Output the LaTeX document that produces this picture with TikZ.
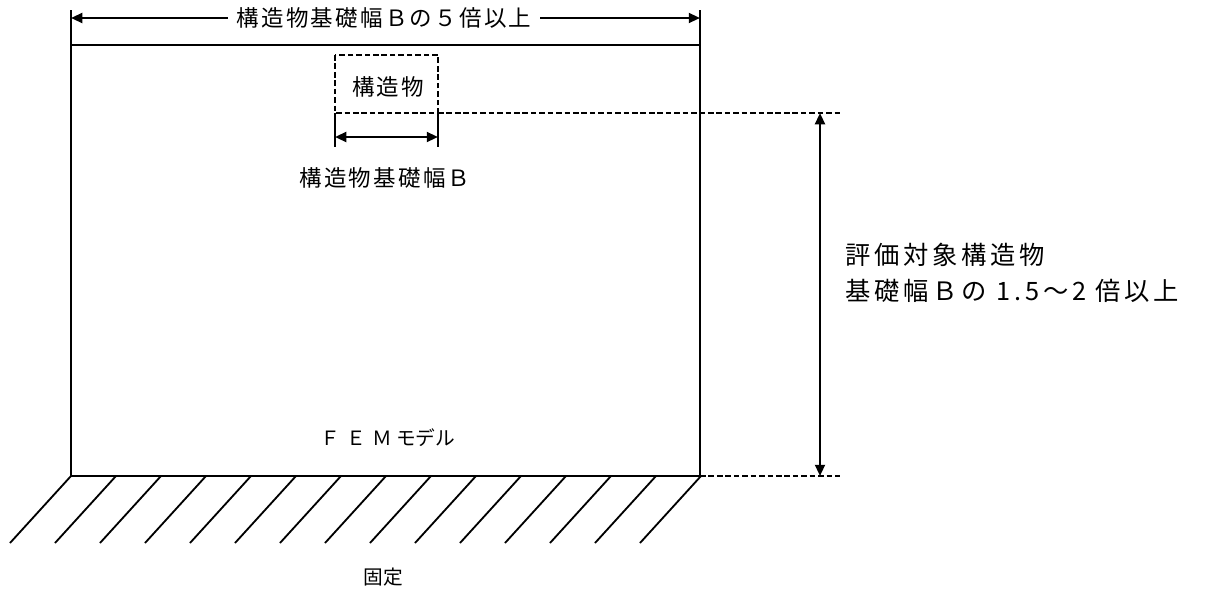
\documentclass[tikz,border=0pt]{standalone}
\usepackage{fontspec}
\usepackage{tikz}
\usetikzlibrary{arrows.meta}
\newfontfamily\jpfont{Noto Sans CJK JP}[LetterSpace=10]
\newfontfamily\jpwide{Noto Sans CJK JP}[LetterSpace=30]
\newfontfamily\jpright{Noto Sans CJK JP}[LetterSpace=15]
\newfontfamily\jptight{Noto Sans CJK JP}

\tikzset{
    dimline/.style={line width=1.6pt, -{Triangle[length=8pt,width=7pt]}},
    dimboth/.style={line width=1.6pt, {Triangle[length=8pt,width=7pt]}-{Triangle[length=8pt,width=7pt]}},
    auxline/.style={line width=1.6pt, dash pattern=on 4pt off 2pt},
    lbl/.style={inner sep=2pt, font=\jpfont\fontsize{16pt}{18pt}\selectfont},
    sidelbl/.style={anchor=west, inner sep=0pt, font=\jpright\fontsize{18pt}{20pt}\selectfont}
}

\begin{document}
\begin{tikzpicture}[x=0.025cm, y=-0.025cm]
    \useasboundingbox (0,0) rectangle (1206,594);

    % Modelo FEM
    \draw[line width=1.8pt] (71,45) rectangle (700,476);
    \node[inner sep=2pt, font=\fontsize{14pt}{16pt}\selectfont] (fem) at (388,438) {{\jpwide ＦＥＭ}\kern3pt{\jptight モデル}};

    % Fixo
    \foreach \i in {0,...,14} {
        \draw[line width=1.3pt] (71+\i*45,476) -- (10+\i*45,543);
    }
    \node[font=\jptight\fontsize{14pt}{16pt}\selectfont] (kotei) at (383,577) {固定};

    % Largura total
    \coordinate (tl) at (71,18);
    \coordinate (tr) at (700,18);
    \draw[line width=1.8pt] (71,10) -- (71,45);
    \draw[line width=1.8pt] (700,10) -- (700,45);
    \node[lbl, inner sep=6pt] (zenhaba) at (384,18) {構造物基礎幅Ｂの５倍以上};
    \draw[dimline] (zenhaba) -- (tl);
    \draw[dimline] (zenhaba) -- (tr);

    % Estrutura
    \draw[auxline] (335,55) rectangle (438,113);
    \node[lbl] (kozo) at (388,87) {構造物};
    \coordinate (bl) at (335,137);
    \coordinate (br) at (438,137);
    \draw[line width=1.8pt] (335,113) -- (335,147);
    \draw[line width=1.8pt] (438,113) -- (438,147);
    \draw[dimboth] (bl) -- (br);
    \node[lbl] (kiso) at (385,178) {構造物基礎幅Ｂ};

    % Profundidade
    \coordinate (ht) at (820,113);
    \coordinate (hb) at (820,476);
    \draw[auxline] (438,113) -- (840,113);
    \draw[auxline] (700,476) -- (840,476);
    \draw[dimboth] (ht) -- (hb);
    \node[sidelbl] (hyoka) at (845,255) {評価対象構造物};
    \node[sidelbl] (bairitsu) at (845,291) {基礎幅Ｂの 1.5～2 倍以上};
\end{tikzpicture}
\end{document}
